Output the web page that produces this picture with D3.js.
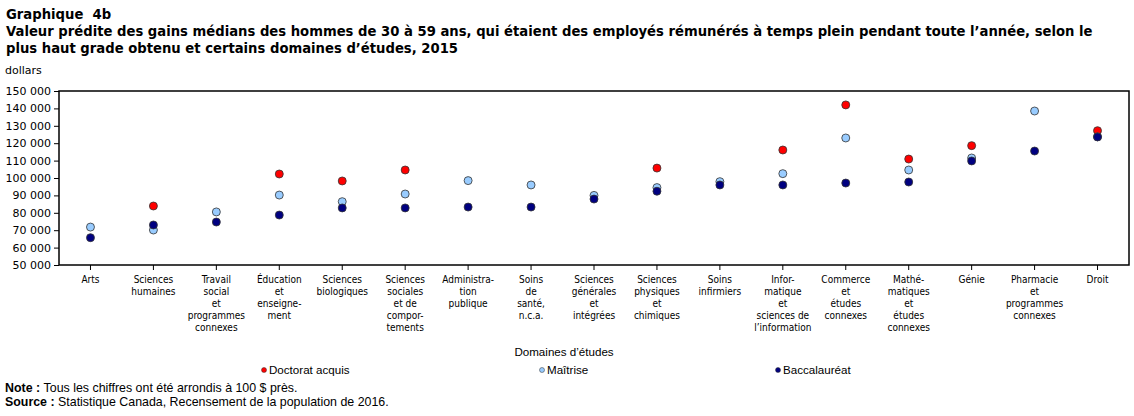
<!DOCTYPE html>
<html lang="fr">
<head>
    <meta charset="UTF-8">
    <title>Graphique 4b</title>
    <script src="https://cdn.jsdelivr.net/npm/d3@7"></script>
    <style>
        body { margin: 0; background: #fff; }
        svg { display: block; }
        text { fill: #000; }
        .title { font-family: "DejaVu Sans", Verdana, sans-serif; font-weight: bold; font-size: 13.2px; }
        .ytick text { font-family: "DejaVu Sans", Verdana, sans-serif; font-size: 11px; }
        .xlab { font-family: "DejaVu Sans Condensed", "DejaVu Sans", sans-serif; font-size: 10px; }
        .narrow { font-family: "Liberation Sans", Arial, sans-serif; font-size: 11.6px; }
        .note { font-family: "Liberation Sans", Arial, sans-serif; font-size: 12.4px; }
    </style>
</head>
<body>
<script>
    const width = 1134;
    const height = 416;

    // domaines d'études (les retours à la ligne suivent la figure)
    const categories = [
        "Arts",
        "Sciences\nhumaines",
        "Travail\nsocial\net\nprogrammes\nconnexes",
        "Éducation\net\nenseigne-\nment",
        "Sciences\nbiologiques",
        "Sciences\nsociales\net de\ncompor-\ntements",
        "Administra-\ntion\npublique",
        "Soins\nde\nsanté,\nn.c.a.",
        "Sciences\ngénérales\net\nintégrées",
        "Sciences\nphysiques\net\nchimiques",
        "Soins\ninfirmiers",
        "Infor-\nmatique\net\nsciences de\nl’information",
        "Commerce\net\nétudes\nconnexes",
        "Mathé-\nmatiques\net\nétudes\nconnexes",
        "Génie",
        "Pharmacie\net\nprogrammes\nconnexes",
        "Droit"
    ];

    const doctorat = [null, 83900, null, 102300, 98300, 104600, null, null, null, 105700, null, 116100, 142000, 110900, 118600, null, 127200];
    const maitrise = [71800, 70100, 80500, 90200, 86400, 90800, 98500, 96000, 90000, 94500, 97900, 102500, 123000, 104600, 111500, 138500, 123700];
    const baccalaureat = [65700, 73000, 74700, 78700, 82800, 82800, 83300, 83300, 87900, 92400, 96000, 96000, 97100, 97700, 109800, 115500, 123600];

    const yTicks = [50000, 60000, 70000, 80000, 90000, 100000, 110000, 120000, 130000, 140000, 150000];

    const series = [
        {name: "Doctorat acquis", values: doctorat, color: "#ff0000"},
        {name: "Maîtrise", values: maitrise, color: "#99ccff"},
        {name: "Baccalauréat", values: baccalaureat, color: "#000080"}
    ];

    const plot = {left: 59, right: 1129, top: 91, bottom: 265};

    const svg = d3.select("body").append("svg")
            .attr("width", width).attr("height", height);

    // titre
    const titleLines = [
        "Graphique  4b",
        "Valeur prédite des gains médians des hommes de 30 à 59 ans, qui étaient des employés rémunérés à temps plein pendant toute l’année, selon le",
        "plus haut grade obtenu et certains domaines d’études, 2015"
    ];
    svg.append("g").selectAll("text")
            .data(titleLines)
            .join("text")
            .attr("class", "title")
            .attr("x", 6)
            .attr("y", (d, i) => 19 + i * 17)
            .style("white-space", "pre")
            .text(d => d);

    svg.append("text")
            .attr("x", 5).attr("y", 74)
            .style("font-family", "DejaVu Sans, sans-serif")
            .style("font-size", "11px")
            .text("dollars");

    const x = d3.scaleBand()
            .domain(d3.range(categories.length))
            .range([plot.left, plot.right]);

    const y = d3.scaleLinear()
            .domain([50000, 150000])
            .range([plot.bottom, plot.top]);

    const fr = d3.formatLocale({decimal: ",", thousands: " ", grouping: [3], currency: ["", " $"]});

    // axe vertical
    const yAxis = svg.append("g")
            .attr("class", "ytick")
            .attr("transform", `translate(${plot.left},0)`)
            .call(d3.axisLeft(y).tickValues(yTicks).tickSize(5).tickPadding(3).tickFormat(fr.format(",")));
    yAxis.select(".domain").remove();
    yAxis.selectAll("line").attr("stroke", "#000");

    // axe horizontal : traits sous le cadre
    const xAxis = svg.append("g")
            .attr("transform", `translate(0,${plot.bottom})`)
            .call(d3.axisBottom(x).tickSize(5).tickFormat(""));
    xAxis.select(".domain").remove();
    xAxis.selectAll("line").attr("stroke", "#000");

    // étiquettes multi-lignes
    svg.append("g").selectAll("text")
            .data(categories)
            .join("text")
            .attr("class", "xlab")
            .attr("text-anchor", "middle")
            .attr("transform", (d, i) => `translate(${x(i) + x.bandwidth() / 2},283)`)
            .selectAll("tspan")
            .data(d => d.split("\n"))
            .join("tspan")
            .attr("x", 0)
            .attr("y", (d, i) => i * 12)
            .text(d => d);

    // cadre
    svg.append("rect")
            .attr("x", plot.left).attr("y", plot.top)
            .attr("width", plot.right - plot.left)
            .attr("height", plot.bottom - plot.top)
            .attr("fill", "none")
            .attr("stroke", "#000")
            .attr("stroke-width", 1.5);

    // points
    series.forEach(s => {
        svg.append("g").selectAll("circle")
                .data(s.values.map((v, i) => ({i, v})).filter(d => d.v != null))
                .join("circle")
                .attr("cx", d => x(d.i) + x.bandwidth() / 2)
                .attr("cy", d => y(d.v))
                .attr("r", 4)
                .attr("fill", s.color)
                .attr("stroke", "#333")
                .attr("stroke-width", 0.8);
    });

    // titre de l'axe
    svg.append("text")
            .attr("class", "narrow")
            .attr("x", 564).attr("y", 356)
            .attr("text-anchor", "middle")
            .text("Domaines d’études");

    // légende
    const legendX = [264, 542, 778];
    const legend = svg.append("g").selectAll("g")
            .data(series)
            .join("g")
            .attr("transform", (d, i) => `translate(${legendX[i]},370)`);
    legend.append("circle")
            .attr("r", 2.5)
            .attr("fill", d => d.color)
            .attr("stroke", "#333")
            .attr("stroke-width", 0.5);
    legend.append("text")
            .attr("class", "narrow")
            .attr("x", 5).attr("y", 4)
            .text(d => d.name);

    // notes
    const notes = svg.append("g").attr("class", "note");
    const n1 = notes.append("text").attr("x", 5).attr("y", 392);
    n1.append("tspan").attr("font-weight", "bold").text("Note : ");
    n1.append("tspan").text("Tous les chiffres ont été arrondis à 100 $ près.");
    const n2 = notes.append("text").attr("x", 5).attr("y", 406);
    n2.append("tspan").attr("font-weight", "bold").text("Source : ");
    n2.append("tspan").text("Statistique Canada, Recensement de la population de 2016.");
</script>
</body>
</html>
